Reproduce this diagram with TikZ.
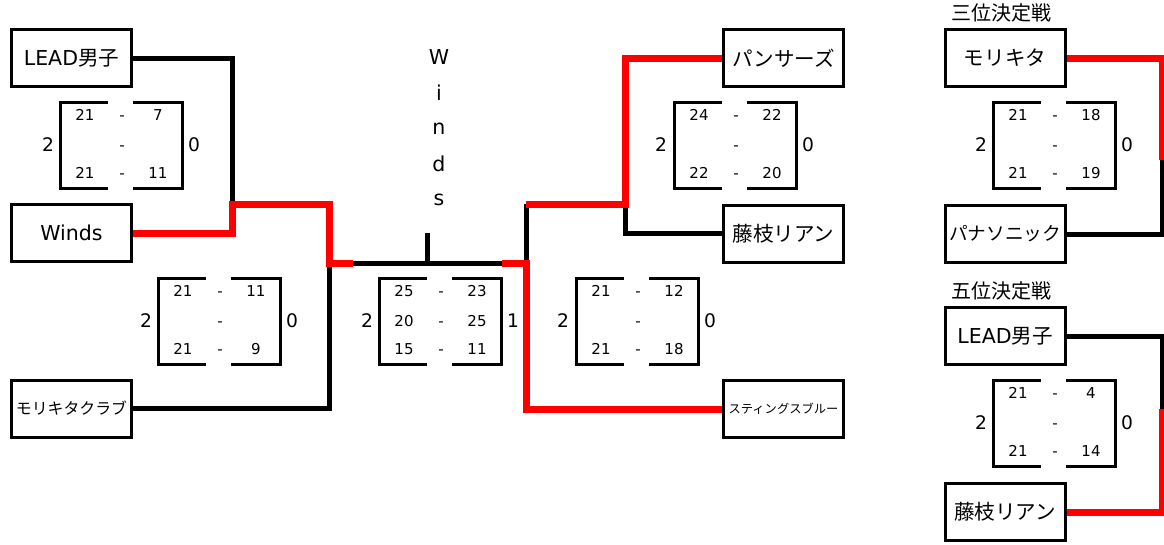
\documentclass[tikz,border=0pt]{standalone}
\usepackage{fontspec}
\setmainfont{DejaVu Sans}
\newfontfamily\jp{Noto Sans CJK JP}
\usetikzlibrary{backgrounds}
\tikzset{
  team/.style={draw=black, line width=2.25pt, fill=white, inner sep=0pt,
    minimum width=90pt, minimum height=42.75pt, font=\fontsize{15.4}{17}\selectfont},
  wline/.style={line width=3.75pt, black, line join=miter},
  rline/.style={line width=5.25pt, red, line join=miter},
  bracket/.style={line width=2.25pt, black, line join=miter},
  pt/.style={inner sep=0pt, text height=8.2pt, text depth=0pt, font=\fontsize{11.25}{13}\selectfont},
  setno/.style={inner sep=0pt, font=\fontsize{14}{16}\selectfont},
  vletter/.style={inner sep=0pt, font=\fontsize{15.4}{17}\selectfont},
  header/.style={inner sep=0pt, font=\jp\fontsize{15}{17}\selectfont},
}
\newcommand{\scorebox}[9]{%
  \draw[bracket] ({#2+48},#3) -- (#2,#3) -- (#2,{#3+86}) -- ({#2+48},{#3+86});
  \draw[bracket] ({#2+73},#3) -- ({#2+122},#3) -- ({#2+122},{#3+86}) -- ({#2+73},{#3+86});
  \node[pt] (#1a1) at ({#2+25},{#3+13}) {#4};
  \node[pt] (#1d1) at ({#2+62},{#3+13}) {-};
  \node[pt] (#1b1) at ({#2+98},{#3+13}) {#5};
  \node[pt] (#1a2) at ({#2+25},{#3+43}) {#6};
  \node[pt] (#1d2) at ({#2+62},{#3+43}) {-};
  \node[pt] (#1b2) at ({#2+98},{#3+43}) {#7};
  \node[pt] (#1a3) at ({#2+25},{#3+71}) {#8};
  \node[pt] (#1d3) at ({#2+62},{#3+71}) {-};
  \node[pt] (#1b3) at ({#2+98},{#3+71}) {#9};
}
\begin{document}
\begin{tikzpicture}[x=0.75pt,y=-0.75pt]
\useasboundingbox (0,0) rectangle (1164,544);

% team boxes
\node[team] (lead) at (71.5,58) {LEAD{\jp 男子}};
\node[team] (winds) at (71.5,233) {Winds};
\node[team, font=\jp\fontsize{11.9}{14}\selectfont] (mkc) at (71.5,408.5) {モリキタクラブ};
\node[team, font=\jp\fontsize{15.4}{17}\selectfont] (panthers) at (783.5,58) {パンサーズ};
\node[team, font=\jp\fontsize{15.4}{17}\selectfont] (fujieda) at (783.5,233.5) {藤枝リアン};
\node[team, font=\jp\fontsize{9.2}{11}\selectfont] (stings) at (783.5,409) {スティングスブルー};
\node[team, font=\jp\fontsize{15.4}{17}\selectfont] (moriki) at (1005,58) {モリキタ};
\node[team, font=\jp\fontsize{14}{16}\selectfont] (pana) at (1005,234) {パナソニック};
\node[team] (leadb) at (1005,336) {LEAD{\jp 男子}};
\node[team, font=\jp\fontsize{15.4}{17}\selectfont] (fujib) at (1005,512) {藤枝リアン};

% junction coordinates
\coordinate (j1) at (232,204);
\coordinate (j2) at (329,263);
\coordinate (j3) at (526,263);
\coordinate (j4) at (625,204);
\coordinate (j5) at (526,204);
\coordinate (cm) at (427,263);
\coordinate (ct) at (427,233);
\coordinate (k1) at (1162,160);
\coordinate (k2) at (1162,409);

\begin{pgfonlayer}{background}
% black (losing) lines
\draw[wline] (lead.east) -| (j1);
\draw[wline] (mkc.east) -| (j2);
\draw[wline] (j2) -- (j3);
\draw[wline] (ct) -- (cm);
\draw[wline] (j3) -- (j5);
\draw[wline] (j4) |- (fujieda.west);
\draw[wline] (pana.east) -| (k1);
\draw[wline] (leadb.east) -| (k2);
% red (winning) lines
\draw[rline] (winds.east) -| (j1) -| (j2) -- (353,263);
\draw[rline] (502,263) -- (j3) |- (stings.west);
\draw[rline] (j5) -- (j4) |- (panthers.west);
\draw[rline] (moriki.east) -| (k1);
\draw[rline] (fujib.east) -| (k2);
\end{pgfonlayer}

% vertical winner label
\node[vletter] (w1) at (439,57) {W};
\node[vletter] (w2) at (439,93) {i};
\node[vletter] (w3) at (439,129) {n};
\node[vletter] (w4) at (439,164) {d};
\node[vletter] (w5) at (439,200) {s};

% headers
\node[header] (h3) at (1001.5,13) {三位決定戦};
\node[header] (h5) at (1001.5,291) {五位決定戦};

% score boxes
\scorebox{sa}{60}{102}{21}{7}{}{}{21}{11}
\node[setno] (saL) at (48,145) {2};
\node[setno] (saR) at (194,145) {0};
\scorebox{sb}{158}{278}{21}{11}{}{}{21}{9}
\node[setno] (sbL) at (146,321) {2};
\node[setno] (sbR) at (292,321) {0};
\scorebox{sc}{379}{278}{25}{23}{20}{25}{15}{11}
\node[setno] (scL) at (367,321) {2};
\node[setno] (scR) at (513,321) {1};
\scorebox{sd}{674}{102}{24}{22}{}{}{22}{20}
\node[setno] (sdL) at (661,145) {2};
\node[setno] (sdR) at (808,145) {0};
\scorebox{se}{576}{278}{21}{12}{}{}{21}{18}
\node[setno] (seL) at (563,321) {2};
\node[setno] (seR) at (710,321) {0};
\scorebox{sf}{993}{102}{21}{18}{}{}{21}{19}
\node[setno] (sfL) at (981,145) {2};
\node[setno] (sfR) at (1127,145) {0};
\scorebox{sg}{993}{380}{21}{4}{}{}{21}{14}
\node[setno] (sgL) at (981,423) {2};
\node[setno] (sgR) at (1127,423) {0};
\end{tikzpicture}
\end{document}
